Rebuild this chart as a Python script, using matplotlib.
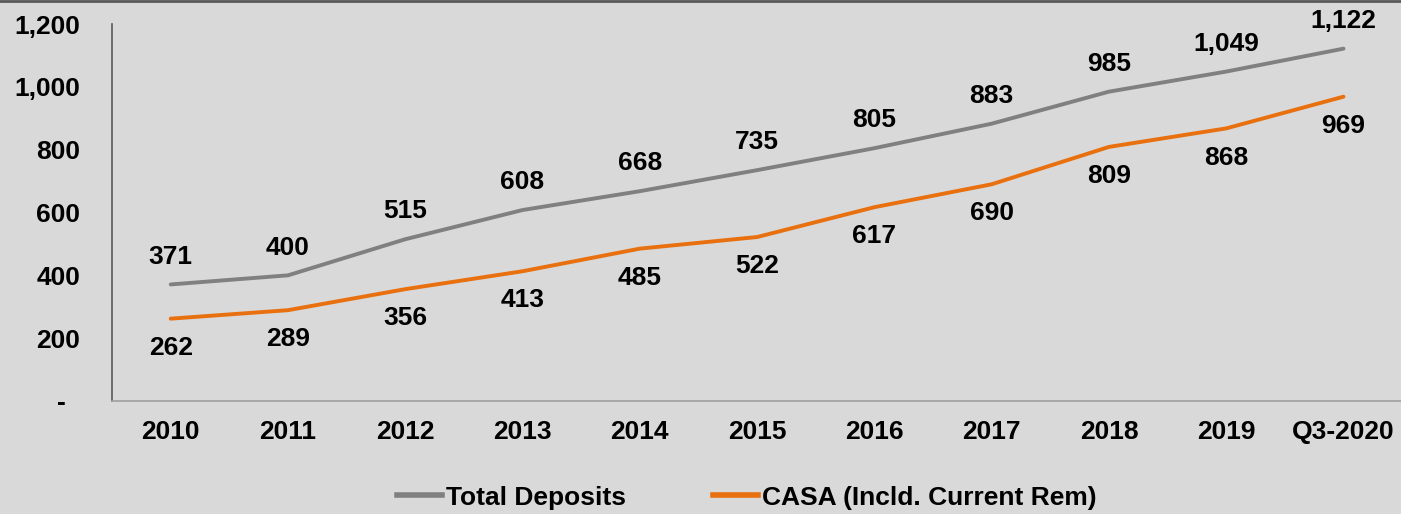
import numpy as np
import matplotlib.pyplot as plt
from matplotlib.lines import Line2D

years = ["2010", "2011", "2012", "2013", "2014", "2015", "2016",
         "2017", "2018", "2019", "Q3-2020"]
total_deposits = [371, 400, 515, 608, 668, 735, 805, 883, 985, 1049, 1122]
casa = [262, 289, 356, 413, 485, 522, 617, 690, 809, 868, 969]
y_ticks = [0, 200, 400, 600, 800, 1000, 1200]
y_tick_labels = ["-  ", "200", "400", "600", "800", "1,000", "1,200"]

bg = "#d9d9d9"
gray = "#808080"
orange = "#e8700f"

plt.rcParams['font.family'] = ['Liberation Sans', 'DejaVu Sans']

fig = plt.figure(figsize=(14.01, 5.14), dpi=100, facecolor=bg)
ax = fig.add_axes([0.08, 0.22, 0.925, 0.733])
ax.set_facecolor(bg)

x = np.arange(len(years))
ax.plot(x, total_deposits, color=gray, lw=2.8, solid_capstyle='round')
ax.plot(x, casa, color=orange, lw=2.8, solid_capstyle='round')

for xi, v in zip(x, total_deposits):
    ax.annotate(f"{v:,}", (xi, v), xytext=(0, 20), textcoords='offset points',
                ha='center', va='center', fontsize=19, fontweight='bold')
for xi, v in zip(x, casa):
    ax.annotate(f"{v:,}", (xi, v), xytext=(0, -21), textcoords='offset points',
                ha='center', va='center', fontsize=19, fontweight='bold')

ax.set_xlim(-0.5, len(years) - 0.45)
ax.set_ylim(0, 1200)
ax.set_xticks(x)
ax.set_xticklabels(years, fontsize=19, fontweight='bold')
ax.set_yticks(y_ticks)
ax.set_yticklabels(y_tick_labels, fontsize=19, fontweight='bold')
ax.tick_params(axis='both', length=0)
ax.tick_params(axis='y', pad=23)
ax.tick_params(axis='x', pad=14)

for s in ['top', 'right']:
    ax.spines[s].set_visible(False)
ax.spines['left'].set_color('#595959')
ax.spines['left'].set_linewidth(1.2)
ax.spines['bottom'].set_color('#a0a0a0')
ax.spines['bottom'].set_linewidth(1.2)

# top border of the slide
fig.add_artist(Line2D([0, 1], [0.998, 0.998], transform=fig.transFigure,
                      color='#595959', lw=2))

handles = [Line2D([], [], color=gray, lw=4),
           Line2D([], [], color=orange, lw=4)]
leg = fig.legend(handles, ["Total Deposits", "CASA (Incld. Current Rem)"],
                 loc='center', bbox_to_anchor=(0.533, 0.032), ncol=2,
                 frameon=False, handlelength=1.7, handletextpad=0.15,
                 columnspacing=3.3,
                 prop={'family': ['Liberation Sans'],
                       'weight': 'bold', 'size': 19})

fig.savefig("out.png", dpi=100, facecolor=bg)
